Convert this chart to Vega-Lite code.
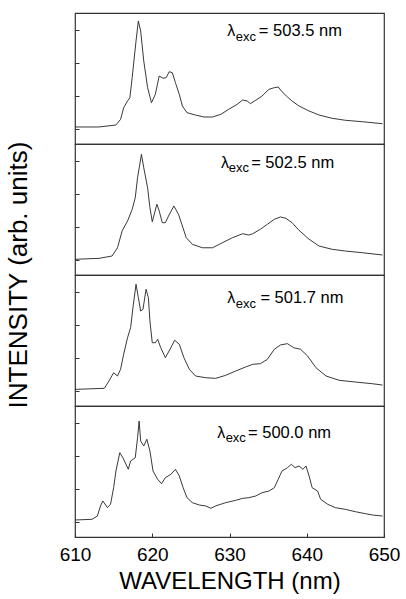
{
  "$schema": "https://vega.github.io/schema/vega-lite/v6.json",
  "padding": {"left": 5, "top": 12, "right": 21, "bottom": 5},
  "bounds": "flush",
  "background": "white",
  "config": {
    "view": {"stroke": "#333", "strokeWidth": 1.2},
    "font": "Liberation Sans"
  },
  "data": {"values": [
    {"panel":1,"wl":610.0,"I":13.0},{"panel":1,"wl":613.1,"I":13.0},{"panel":1,"wl":615.3,"I":14.5},{"panel":1,"wl":615.9,"I":18.8},{"panel":1,"wl":616.3,"I":27.7},{"panel":1,"wl":616.8,"I":32.8},{"panel":1,"wl":617.1,"I":35.3},{"panel":1,"wl":617.4,"I":50.6},{"panel":1,"wl":617.9,"I":78.6},{"panel":1,"wl":618.2,"I":93.9},{"panel":1,"wl":618.5,"I":86.3},{"panel":1,"wl":618.9,"I":63.4},{"panel":1,"wl":619.4,"I":43.0},{"panel":1,"wl":619.9,"I":31.5},{"panel":1,"wl":620.4,"I":37.9},{"panel":1,"wl":620.9,"I":51.9},{"panel":1,"wl":621.4,"I":50.2},{"panel":1,"wl":621.8,"I":50.6},{"panel":1,"wl":622.2,"I":55.2},{"panel":1,"wl":622.6,"I":54.4},{"panel":1,"wl":623.0,"I":46.8},{"panel":1,"wl":623.5,"I":37.9},{"panel":1,"wl":623.9,"I":29.0},{"panel":1,"wl":624.5,"I":23.9},{"panel":1,"wl":625.6,"I":22.1},{"panel":1,"wl":626.7,"I":20.6},{"panel":1,"wl":627.8,"I":20.6},{"panel":1,"wl":628.9,"I":22.7},{"panel":1,"wl":629.9,"I":26.5},{"panel":1,"wl":631.0,"I":30.3},{"panel":1,"wl":631.7,"I":33.6},{"panel":1,"wl":632.3,"I":32.8},{"panel":1,"wl":632.7,"I":30.8},{"panel":1,"wl":633.4,"I":33.4},{"panel":1,"wl":634.2,"I":36.6},{"panel":1,"wl":635.1,"I":41.7},{"panel":1,"wl":635.8,"I":43.0},{"panel":1,"wl":636.3,"I":43.5},{"panel":1,"wl":636.8,"I":39.9},{"panel":1,"wl":637.5,"I":35.9},{"panel":1,"wl":638.1,"I":32.8},{"panel":1,"wl":639.0,"I":29.0},{"panel":1,"wl":640.3,"I":25.2},{"panel":1,"wl":641.6,"I":22.1},{"panel":1,"wl":643.3,"I":19.6},{"panel":1,"wl":645.0,"I":18.1},{"panel":1,"wl":647.2,"I":17.0},{"panel":1,"wl":649.8,"I":15.5},
    {"panel":2,"wl":610.0,"I":12.0},{"panel":2,"wl":613.1,"I":12.7},{"panel":2,"wl":614.8,"I":14.5},{"panel":2,"wl":615.5,"I":20.8},{"panel":2,"wl":616.1,"I":33.6},{"panel":2,"wl":616.8,"I":41.2},{"panel":2,"wl":617.4,"I":50.1},{"panel":2,"wl":617.8,"I":59.0},{"panel":2,"wl":618.1,"I":74.3},{"panel":2,"wl":618.6,"I":92.1},{"panel":2,"wl":618.9,"I":81.9},{"panel":2,"wl":619.4,"I":66.6},{"panel":2,"wl":619.7,"I":51.4},{"panel":2,"wl":620.0,"I":40.7},{"panel":2,"wl":620.2,"I":45.0},{"panel":2,"wl":620.6,"I":54.0},{"panel":2,"wl":620.9,"I":48.9},{"panel":2,"wl":621.3,"I":39.9},{"panel":2,"wl":621.7,"I":39.9},{"panel":2,"wl":622.1,"I":45.0},{"panel":2,"wl":622.8,"I":52.7},{"panel":2,"wl":623.4,"I":46.3},{"panel":2,"wl":623.9,"I":37.4},{"panel":2,"wl":624.4,"I":28.5},{"panel":2,"wl":625.2,"I":23.4},{"panel":2,"wl":626.5,"I":20.8},{"panel":2,"wl":627.8,"I":20.8},{"panel":2,"wl":629.1,"I":24.7},{"panel":2,"wl":630.4,"I":28.5},{"panel":2,"wl":631.7,"I":31.5},{"panel":2,"wl":632.5,"I":30.5},{"panel":2,"wl":633.0,"I":31.5},{"panel":2,"wl":634.0,"I":34.9},{"panel":2,"wl":634.9,"I":38.7},{"panel":2,"wl":635.8,"I":42.5},{"panel":2,"wl":636.6,"I":44.3},{"panel":2,"wl":637.3,"I":43.3},{"panel":2,"wl":638.1,"I":39.9},{"panel":2,"wl":639.0,"I":34.1},{"panel":2,"wl":640.3,"I":27.3},{"panel":2,"wl":641.6,"I":22.1},{"panel":2,"wl":643.3,"I":19.6},{"panel":2,"wl":645.0,"I":18.3},{"panel":2,"wl":647.2,"I":17.0},{"panel":2,"wl":649.8,"I":15.3},
    {"panel":3,"wl":610.0,"I":12.7},{"panel":3,"wl":613.8,"I":13.5},{"panel":3,"wl":614.4,"I":19.1},{"panel":3,"wl":615.0,"I":25.4},{"panel":3,"wl":615.5,"I":22.9},{"panel":3,"wl":615.9,"I":28.0},{"panel":3,"wl":616.3,"I":39.5},{"panel":3,"wl":616.8,"I":52.1},{"panel":3,"wl":617.2,"I":59.8},{"panel":3,"wl":617.5,"I":75.0},{"panel":3,"wl":617.9,"I":92.9},{"panel":3,"wl":618.2,"I":82.7},{"panel":3,"wl":618.5,"I":72.5},{"panel":3,"wl":618.8,"I":73.8},{"panel":3,"wl":619.2,"I":89.1},{"panel":3,"wl":619.5,"I":82.7},{"panel":3,"wl":619.7,"I":64.9},{"panel":3,"wl":620.0,"I":48.3},{"panel":3,"wl":620.4,"I":48.3},{"panel":3,"wl":620.7,"I":50.9},{"panel":3,"wl":621.1,"I":44.5},{"panel":3,"wl":621.7,"I":36.9},{"panel":3,"wl":622.3,"I":43.3},{"panel":3,"wl":622.9,"I":50.2},{"panel":3,"wl":623.5,"I":47.1},{"panel":3,"wl":624.1,"I":36.9},{"panel":3,"wl":624.8,"I":28.0},{"panel":3,"wl":625.6,"I":22.9},{"panel":3,"wl":626.9,"I":21.6},{"panel":3,"wl":628.2,"I":21.1},{"panel":3,"wl":629.5,"I":23.4},{"panel":3,"wl":630.8,"I":26.7},{"panel":3,"wl":632.1,"I":29.8},{"panel":3,"wl":633.0,"I":31.8},{"panel":3,"wl":634.0,"I":32.3},{"panel":3,"wl":634.9,"I":35.6},{"panel":3,"wl":635.8,"I":43.3},{"panel":3,"wl":636.6,"I":46.6},{"panel":3,"wl":637.5,"I":47.6},{"panel":3,"wl":638.3,"I":44.5},{"panel":3,"wl":639.2,"I":43.3},{"panel":3,"wl":640.1,"I":38.2},{"panel":3,"wl":641.2,"I":29.2},{"panel":3,"wl":642.5,"I":22.9},{"panel":3,"wl":644.2,"I":19.6},{"panel":3,"wl":646.3,"I":18.3},{"panel":3,"wl":648.5,"I":17.0},{"panel":3,"wl":649.8,"I":16.0},
    {"panel":4,"wl":610.0,"I":13.0},{"panel":4,"wl":612.2,"I":13.5},{"panel":4,"wl":612.9,"I":16.0},{"panel":4,"wl":613.3,"I":23.7},{"panel":4,"wl":613.6,"I":27.5},{"panel":4,"wl":614.2,"I":22.4},{"panel":4,"wl":614.6,"I":25.0},{"panel":4,"wl":615.0,"I":37.6},{"panel":4,"wl":615.3,"I":50.4},{"panel":4,"wl":615.8,"I":64.4},{"panel":4,"wl":616.2,"I":60.5},{"panel":4,"wl":616.9,"I":51.7},{"panel":4,"wl":617.2,"I":58.0},{"panel":4,"wl":617.8,"I":60.5},{"panel":4,"wl":618.1,"I":75.8},{"panel":4,"wl":618.3,"I":88.5},{"panel":4,"wl":618.5,"I":73.3},{"panel":4,"wl":618.9,"I":69.5},{"panel":4,"wl":619.3,"I":74.6},{"panel":4,"wl":619.7,"I":65.6},{"panel":4,"wl":620.1,"I":50.4},{"panel":4,"wl":620.7,"I":44.0},{"panel":4,"wl":621.2,"I":40.7},{"panel":4,"wl":621.7,"I":45.3},{"panel":4,"wl":622.4,"I":47.8},{"panel":4,"wl":623.0,"I":51.7},{"panel":4,"wl":623.5,"I":46.6},{"panel":4,"wl":624.0,"I":37.6},{"panel":4,"wl":624.5,"I":30.0},{"panel":4,"wl":625.2,"I":26.2},{"panel":4,"wl":626.1,"I":24.4},{"panel":4,"wl":626.9,"I":23.7},{"panel":4,"wl":627.6,"I":21.9},{"panel":4,"wl":628.2,"I":23.7},{"panel":4,"wl":629.5,"I":26.2},{"panel":4,"wl":630.8,"I":28.0},{"panel":4,"wl":631.7,"I":29.5},{"panel":4,"wl":632.5,"I":30.0},{"panel":4,"wl":633.4,"I":31.3},{"panel":4,"wl":634.2,"I":33.8},{"panel":4,"wl":635.1,"I":35.1},{"panel":4,"wl":635.8,"I":37.6},{"panel":4,"wl":636.3,"I":44.0},{"panel":4,"wl":636.8,"I":50.4},{"panel":4,"wl":637.5,"I":52.9},{"panel":4,"wl":638.0,"I":55.5},{"panel":4,"wl":638.5,"I":52.9},{"panel":4,"wl":639.0,"I":54.2},{"panel":4,"wl":639.5,"I":51.7},{"panel":4,"wl":639.9,"I":54.2},{"panel":4,"wl":640.3,"I":46.6},{"panel":4,"wl":640.7,"I":37.6},{"panel":4,"wl":641.4,"I":35.1},{"panel":4,"wl":641.8,"I":28.8},{"panel":4,"wl":642.7,"I":25.0},{"panel":4,"wl":643.7,"I":22.4},{"panel":4,"wl":645.0,"I":21.1},{"panel":4,"wl":646.3,"I":19.3},{"panel":4,"wl":647.6,"I":17.8},{"panel":4,"wl":648.5,"I":16.8},{"panel":4,"wl":649.8,"I":16.0},
    {"panel":1,"kind":"lam","wl":629.7,"I":82.4,"txt":"λ"},{"panel":1,"kind":"sub","wl":630.8,"I":79.0,"txt":"exc"},{"panel":1,"kind":"val","wl":633.8,"I":82.4,"txt":"= 503.5 nm"},
    {"panel":2,"kind":"lam","wl":628.9,"I":81.9,"txt":"λ"},{"panel":2,"kind":"sub","wl":629.9,"I":78.5,"txt":"exc"},{"panel":2,"kind":"val","wl":632.8,"I":81.9,"txt":"= 502.5 nm"},
    {"panel":3,"kind":"lam","wl":629.7,"I":78.4,"txt":"λ"},{"panel":3,"kind":"sub","wl":630.8,"I":75.0,"txt":"exc"},{"panel":3,"kind":"val","wl":634.0,"I":78.4,"txt":"= 501.7 nm"},
    {"panel":4,"kind":"lam","wl":628.4,"I":75.8,"txt":"λ"},{"panel":4,"kind":"sub","wl":629.5,"I":72.4,"txt":"exc"},{"panel":4,"kind":"val","wl":632.4,"I":75.8,"txt":"= 500.0 nm"}
  ]},
  "facet": {
    "row": {
      "field": "panel", "type": "ordinal", "sort": "ascending",
      "title": "INTENSITY (arb. units)",
      "header": {"labels": false, "titleOrient": "left", "titleFontSize": 26, "titleFontWeight": "normal", "titleFont": "Liberation Sans", "titleColor": "#000", "titlePadding": 0}
    }
  },
  "spacing": {"row": 0},
  "spec": {
    "width": 309,
    "height": 131,
    "layer": [
      {
        "transform": [{"filter": "datum.kind == null"}],
        "mark": {"type": "line", "stroke": "#222", "strokeWidth": 0.9, "interpolate": "linear"},
        "encoding": {
          "x": {"field": "wl", "type": "quantitative",
            "scale": {"domain": [610, 650], "nice": false, "zero": false},
            "axis": {"title": "WAVELENGTH (nm)", "titleFontSize": 24, "titleFontWeight": "normal", "titleColor": "#000", "titlePadding": 5,
              "values": [610, 615, 620, 625, 630, 635, 640, 645, 650],
              "labelExpr": "datum.value % 10 == 0 ? datum.label : ''",
              "labelFontSize": 19, "labelColor": "#000", "labelPadding": 12, "labelFlush": false,
              "grid": false, "domain": false, "tickColor": "#333",
              "tickSize": {"condition": {"test": "datum.value % 10 == 0", "value": -4}, "value": -2.5}}},
          "y": {"field": "I", "type": "quantitative",
            "scale": {"domain": [0, 100], "nice": false},
            "axis": {"title": null, "labels": false, "grid": false, "domain": false, "tickColor": "#333",
              "values": [11.2, 23.9, 36.6, 49.3, 62, 74.7, 87.4],
              "tickSize": {"condition": {"test": "abs(datum.value - 11.2) < 0.1 || abs(datum.value - 36.6) < 0.1 || abs(datum.value - 62) < 0.1 || abs(datum.value - 87.4) < 0.1", "value": -4}, "value": -2.5},
              "minExtent": 33}}
        }
      },
      {
        "transform": [{"filter": "datum.kind == 'lam'"}],
        "mark": {"type": "text", "align": "left", "baseline": "alphabetic", "fontSize": 16, "color": "#000"},
        "encoding": {"x": {"field": "wl", "type": "quantitative"}, "y": {"field": "I", "type": "quantitative"}, "text": {"field": "txt"}}
      },
      {
        "transform": [{"filter": "datum.kind == 'sub'"}],
        "mark": {"type": "text", "align": "left", "baseline": "alphabetic", "fontSize": 13, "color": "#000"},
        "encoding": {"x": {"field": "wl", "type": "quantitative"}, "y": {"field": "I", "type": "quantitative"}, "text": {"field": "txt"}}
      },
      {
        "transform": [{"filter": "datum.kind == 'val'"}],
        "mark": {"type": "text", "align": "left", "baseline": "alphabetic", "fontSize": 16.5, "color": "#000"},
        "encoding": {"x": {"field": "wl", "type": "quantitative"}, "y": {"field": "I", "type": "quantitative"}, "text": {"field": "txt"}}
      }
    ]
  }
}
